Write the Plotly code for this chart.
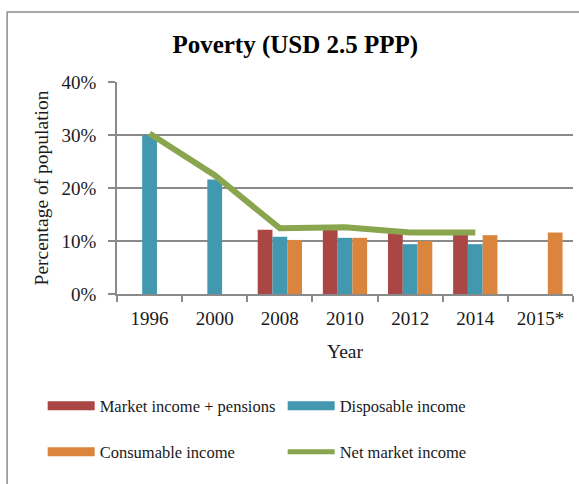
import plotly.graph_objects as go

# ── data (share of population below USD 2.5 PPP) ─────────────────────────────
years = ["1996", "2000", "2008", "2010", "2012", "2014", "2015*"]
market_pensions = [None, None, 0.121, 0.122, 0.116, 0.116, None]
disposable = [0.300, 0.216, 0.108, 0.106, 0.094, 0.094, None]
consumable = [None, None, 0.102, 0.106, 0.100, 0.111, 0.116]
net_market = [0.303, 0.224, 0.124, 0.126, 0.116, 0.116, None]

RED = "#AA4643"
BLUE = "#4198AF"
ORANGE = "#DB843D"
GREEN = "#89A54E"
GRID = "#8a8a8a"
TEXT = "#1a1a1a"
FONT = "Liberation Serif, Times New Roman, serif"

fig = go.Figure()

bar_series = [
    ("Market income + pensions", market_pensions, RED, "legend"),
    ("Disposable income", disposable, BLUE, "legend"),
    ("Consumable income", consumable, ORANGE, "legend2"),
]
for name, vals, color, _ in bar_series:
    fig.add_trace(go.Bar(
        x=years, y=vals, name=name,
        marker=dict(color=color, line=dict(width=0)),
        showlegend=False, hoverinfo="skip",
    ))

fig.add_trace(go.Scatter(
    x=years, y=net_market, name="Net market income",
    mode="lines", line=dict(color=GREEN, width=6),
    showlegend=False, hoverinfo="skip",
))

# legend swatches drawn as wide bands, like the spreadsheet legend
for name, _, color, leg in bar_series:
    fig.add_trace(go.Scatter(
        x=[None], y=[None], name=name, mode="lines",
        line=dict(color=color, width=9), legend=leg,
    ))
fig.add_trace(go.Scatter(
    x=[None], y=[None], name="Net market income", mode="lines",
    line=dict(color=GREEN, width=5), legend="legend2",
))

legend_common = dict(
    orientation="h", xanchor="left", yanchor="middle",
    font=dict(family=FONT, size=16.5, color=TEXT),
    itemwidth=47, entrywidth=178, entrywidthmode="pixels",
    bgcolor="rgba(0,0,0,0)", itemclick=False, itemdoubleclick=False,
)

fig.update_layout(
    width=579, height=484,
    paper_bgcolor="white", plot_bgcolor="white",
    margin=dict(l=117, r=6, t=82, b=190, autoexpand=False),
    barmode="group", bargap=0.32, bargroupgap=0,
    font=dict(family=FONT, color=TEXT),
    title=dict(
        text="<b>Poverty (USD 2.5 PPP)</b>",
        x=0.51, xanchor="center", y=0.908, yanchor="middle",
        font=dict(family=FONT, size=25, color="black"),
    ),
    legend=dict(x=-0.163, y=-0.528, **legend_common),
    legend2=dict(x=-0.163, y=-0.745, **legend_common),
    shapes=[dict(
        type="rect", xref="paper", yref="paper",
        x0=-0.241, x1=1.2, y0=-1.2, y1=1.33,
        line=dict(color="#8c8c8c", width=1.5), layer="below",
    )],
)

fig.update_xaxes(
    type="category", showline=True, linecolor=GRID, linewidth=1.5,
    ticks="outside", tickson="boundaries", ticklen=6, tickcolor=GRID, tickwidth=1.5,
    tickfont=dict(family=FONT, size=19, color=TEXT), ticklabelstandoff=6,
    showgrid=False, fixedrange=True,
    title=dict(text="Year", font=dict(family=FONT, size=19.5, color=TEXT), standoff=17),
)
fig.update_yaxes(
    range=[0, 0.4], dtick=0.1, tickformat=".0%",
    showline=True, linecolor=GRID, linewidth=1.5,
    ticks="outside", ticklen=7, tickcolor=GRID, tickwidth=1.5,
    tickfont=dict(family=FONT, size=19, color=TEXT), ticklabelstandoff=8,
    showgrid=True, gridcolor=GRID, gridwidth=1.5, zeroline=False, fixedrange=True,
    title=dict(text="Percentage of population",
               font=dict(family=FONT, size=19.5, color=TEXT), standoff=8),
)

fig.write_html(
    "out.html",
    config={"displayModeBar": False},
    post_script="document.body.style.margin = '0';",
)
